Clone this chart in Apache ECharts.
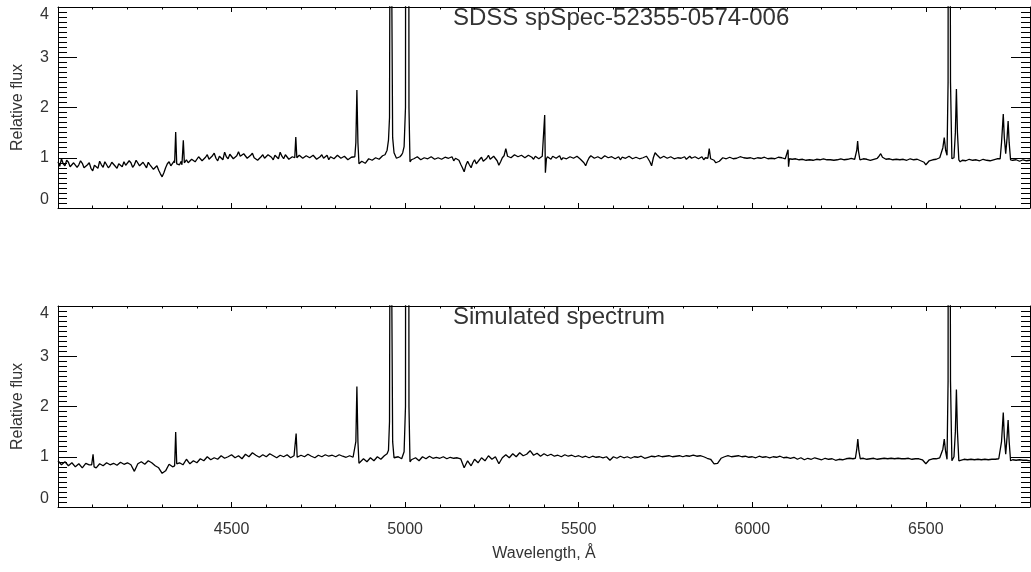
<!DOCTYPE html>
<html>
<head>
<meta charset="utf-8">
<script src="https://cdn.jsdelivr.net/npm/echarts@6/dist/echarts.min.js"></script>
<style>
html,body{margin:0;padding:0;background:#fff;}
#chart{width:1031px;height:572px;}
</style>
</head>
<body>
<div id="chart"></div>
<script>
// Sampling grids of the continuum arrays (Angstrom)
const gridStart = 4000;
const sdssStep = 5;
const simStep = 10;

// Observed SDSS spectrum, continuum samples every 5 A from 4000 to 6800 (one row = 100 A)
const sdssFlux = [
  0.92,0.83,0.98,0.88,0.84,0.95,0.91,0.82,0.80,0.90,0.93,0.81,0.86,0.94,0.89,0.80,0.77,0.86,0.90,0.79,
  0.74,0.85,0.88,0.79,0.93,0.86,0.81,0.92,0.90,0.80,0.84,0.91,0.94,0.83,0.79,0.88,0.88,0.82,0.92,0.85,
  0.83,0.94,0.90,0.81,0.86,0.95,0.93,0.84,0.82,0.91,0.88,0.80,0.91,0.86,0.84,0.77,0.79,0.84,0.75,0.68,
  0.62,0.70,0.80,0.88,0.92,0.84,0.82,0.94,0.90,0.88,0.86,0.93,0.90,0.88,0.96,0.90,0.88,0.97,0.99,0.92,
  0.95,1.02,1.03,0.94,0.93,1.01,1.06,0.97,0.97,1.04,1.09,0.99,0.94,1.03,1.04,0.96,1.11,1.02,0.98,1.07,
  1.05,0.98,0.95,1.04,1.12,1.03,1.00,1.08,1.07,0.99,0.96,1.05,1.09,1.00,1.02,0.95,0.94,1.02,1.06,0.99,
  1.00,1.06,1.09,1.01,0.96,1.05,1.04,0.98,1.11,1.03,0.98,1.06,1.03,0.97,0.95,1.02,1.02,1.00,1.00,1.05,
  1.05,0.99,0.97,1.04,1.07,1.00,1.00,1.05,1.03,0.97,0.95,1.02,1.06,0.99,1.01,1.05,0.96,1.02,1.04,0.98,
  1.00,1.05,1.07,0.99,0.97,1.03,1.02,0.96,0.94,1.01,1.04,0.98,1.00,1.00,0.87,0.93,0.96,0.89,0.91,0.98,
  1.01,0.95,0.93,1.00,1.03,0.97,0.96,1.04,1.05,1.07,1.10,1.10,1.10,1.05,1.03,0.99,0.97,1.02,1.06,1.08,
  1.00,1.00,1.00,1.00,0.93,0.98,0.99,1.02,1.01,0.96,0.95,1.00,1.03,0.98,0.97,1.02,1.01,0.97,0.94,1.00,
  1.00,0.97,0.95,1.01,1.04,0.99,0.97,1.02,0.94,0.99,1.00,0.95,0.87,0.80,0.72,0.85,0.93,0.86,0.80,0.90,
  0.96,0.88,0.85,0.97,1.01,0.93,0.91,0.99,1.05,0.97,0.95,1.03,1.01,0.94,0.85,0.92,1.00,1.04,1.18,1.03,
  1.04,1.00,1.01,1.06,1.08,1.02,0.99,1.05,1.06,1.00,1.01,1.05,1.07,1.01,0.97,1.03,1.04,0.98,1.00,1.03,
  1.00,0.98,1.02,1.00,0.97,1.03,1.05,0.99,1.00,1.04,0.96,1.00,1.03,0.98,0.98,1.02,1.04,0.99,0.99,1.03,
  1.02,0.97,0.95,0.90,0.84,0.93,1.00,1.04,1.05,0.99,0.97,1.02,1.03,0.98,0.99,1.04,1.05,1.00,0.98,1.02,
  1.03,0.98,0.99,1.02,0.96,1.01,1.04,0.99,1.00,1.03,1.02,0.98,0.97,1.01,1.03,0.98,0.95,1.00,1.01,1.03,
  0.98,0.92,0.84,1.00,1.10,1.06,1.04,0.99,1.00,1.03,1.03,0.99,0.99,1.02,1.02,0.98,0.97,1.00,1.01,0.99,
  1.00,1.02,0.97,1.00,1.03,0.99,0.99,1.02,1.01,0.98,1.00,1.02,0.96,1.00,1.00,1.00,0.98,0.95,0.95,0.90,
  0.88,0.93,0.96,1.00,1.01,0.98,0.98,1.01,1.01,0.98,0.96,0.99,1.00,1.02,0.99,1.00,1.02,0.99,0.97,1.00,
  1.00,0.98,0.97,1.00,1.01,0.99,0.98,1.01,1.00,0.98,0.96,0.99,1.00,0.98,0.98,1.01,1.04,1.00,0.99,0.98,
  1.00,0.98,0.99,0.97,0.96,0.98,0.98,0.96,0.95,0.97,0.97,0.95,0.93,0.96,0.97,0.95,0.95,0.97,0.98,0.96,
  0.96,0.98,0.98,0.96,0.94,0.96,0.97,0.95,0.93,0.96,0.96,0.98,0.98,0.96,0.95,0.97,0.97,0.99,0.99,0.97,
  1.00,0.97,0.96,0.98,0.98,0.96,0.97,0.98,0.95,0.97,0.97,0.99,0.99,1.03,1.08,1.01,0.98,0.97,0.96,0.98,
  0.97,0.96,0.95,0.97,0.98,0.96,0.95,0.97,0.97,0.95,0.96,0.98,0.98,0.96,0.95,0.97,0.96,0.94,0.93,0.91,
  0.86,0.90,0.94,0.96,0.96,0.95,0.97,0.98,1.00,1.00,1.00,1.00,1.00,1.00,1.00,1.00,1.00,1.00,1.00,1.00,
  0.93,0.95,0.96,0.94,0.95,0.97,0.97,0.95,0.94,0.96,0.96,0.94,0.95,0.97,0.97,0.95,0.96,0.94,0.95,0.96,
  0.97,0.98,0.99,1.00,1.00,1.00,1.00,1.00,1.00,0.96,0.95,0.93,0.96,0.94,0.93,0.96,0.96,0.93,0.94,0.96,
  0.95
];

// Emission lines / narrow features of the SDSS spectrum: [wavelength, flux]
const sdssLines = [
  [[4336,0.90],[4339,1.51],[4342,0.88]],
  [[4357,0.86],[4361,1.35],[4364,0.90]],
  [[4682,1.00],[4685,1.41],[4688,1.00]],
  [[4855,1.02],[4858,1.30],[4861,2.35],[4864,1.30],[4867,0.88]],
  [[4942,1.06],[4948,1.15],[4952,1.35],[4955,1.80],[4957.5,9],[4961,9],[4964,1.40],[4968,1.10],[4972,1.08]],
  [[4993,1.10],[4997,1.22],[5001,2.00],[5003,20],[5009,20],[5011,2.00],[5014,0.92],[5018,0.96]],
  [[5399,1.00],[5402,1.85],[5404,0.70],[5407,0.98]],
  [[5872,0.99],[5876,1.18],[5880,0.98]],
  [[6100,1.00],[6103,1.16],[6104.5,0.82],[6107,0.98]],
  [[6297,0.98],[6301,1.15],[6303.5,1.33],[6306,1.12],[6310,0.96]],
  [[6543,1.00],[6549,1.20],[6553,1.40],[6557,1.15],[6561,1.05],[6564,2.5],[6566,20],[6569,20],[6571,2.5],[6575,0.98],[6581,1.00],[6585,1.50],[6588,2.37],[6591,1.50],[6595,0.96],[6599,0.92]],
  [[6714,0.98],[6718,1.30],[6723,1.87],[6726,1.40],[6730,1.08],[6734,1.40],[6737,1.73],[6740,1.30],[6744,0.96]]
];

// Simulated spectrum, continuum samples every 10 A from 4000 to 6800
const simFlux = [
  0.92,0.84,0.90,0.82,0.88,0.80,0.86,0.78,0.87,0.84,
  0.86,0.78,0.86,0.82,0.88,0.84,0.87,0.83,0.89,0.85,
  0.88,0.84,0.71,0.86,0.90,0.85,0.92,0.88,0.82,0.78,
  0.67,0.72,0.85,0.80,0.84,0.88,0.84,0.95,0.86,0.92,
  0.88,0.96,0.92,1.00,0.94,0.98,0.95,1.02,0.97,1.00,
  1.04,0.98,1.02,0.96,1.05,1.00,1.08,1.03,0.99,1.04,
  1.00,1.06,1.02,0.98,1.03,1.00,1.04,0.98,1.02,1.00,
  1.03,1.00,1.05,1.01,0.98,1.03,1.00,1.04,1.01,1.03,
  1.00,1.04,1.01,0.99,1.02,0.99,1.00,0.88,0.96,0.90,
  0.98,0.92,1.00,0.95,1.02,1.00,1.00,1.00,1.00,0.96,
  1.00,1.00,0.93,0.98,0.92,1.00,0.96,1.01,0.97,0.99,
  0.97,1.00,0.96,0.99,0.97,0.98,0.96,0.78,0.92,0.82,
  0.95,0.88,0.98,0.92,1.02,0.95,1.00,0.86,0.98,1.04,
  0.98,1.06,1.00,1.08,1.02,1.05,1.12,1.03,1.07,1.01,
  1.06,1.02,1.05,1.01,1.03,1.00,1.04,1.01,1.03,1.00,
  1.02,0.99,1.01,0.98,1.01,0.99,1.00,0.98,1.00,0.93,
  1.00,0.97,1.01,0.98,1.00,0.97,1.00,0.99,1.01,0.97,
  0.99,1.01,1.00,1.02,1.00,1.01,1.02,1.00,1.01,1.02,
  1.00,1.02,1.01,1.03,1.01,1.02,1.00,0.97,0.95,0.86,
  0.87,0.97,1.00,1.02,1.00,1.01,1.02,1.00,1.01,0.99,
  1.00,0.98,1.01,0.99,1.00,0.98,1.00,0.99,1.01,0.98,
  0.99,0.97,0.99,0.95,0.98,0.94,0.97,0.95,0.98,0.96,
  0.94,0.97,0.95,0.96,0.93,0.95,0.94,0.96,0.97,0.96,
  0.97,0.96,0.97,0.95,0.96,0.97,0.95,0.96,0.97,0.96,
  0.97,0.96,0.97,0.96,0.96,0.97,0.95,0.96,0.96,0.94,
  0.86,0.94,0.96,0.96,0.98,1.00,1.00,1.00,1.00,1.00,
  0.93,0.95,0.94,0.95,0.94,0.95,0.94,0.95,0.94,0.95,
  0.95,0.96,1.00,1.00,1.00,0.94,0.93,0.94,0.93,0.93,
  0.92
];

// Emission lines of the simulated spectrum: [wavelength, flux]
const simLines = [
  [[4097,0.84],[4101,1.05],[4104,0.80]],
  [[4336,0.82],[4339,1.49],[4342,0.86]],
  [[4682,1.00],[4686,1.46],[4689,0.99]],
  [[4855,1.00],[4858,1.30],[4861,2.40],[4864,1.30],[4867,0.87]],
  [[4942,1.00],[4948,1.06],[4952,1.13],[4955,1.70],[4957.5,9],[4961,9],[4964,1.30],[4968,0.98],[4972,1.00]],
  [[4993,1.02],[4997,1.10],[5001,2.00],[5003,20],[5009,20],[5011,2.00],[5014,0.90],[5018,0.94]],
  [[6297,0.97],[6301,1.15],[6304,1.35],[6307,1.12],[6311,0.96]],
  [[6543,0.98],[6549,1.15],[6553,1.35],[6557,1.10],[6561,0.95],[6564,2.5],[6566,20],[6569,20],[6571,2.5],[6575,0.92],[6581,1.00],[6585,1.50],[6588,2.34],[6591,1.50],[6595,0.92],[6599,0.93]],
  [[6714,0.96],[6718,1.30],[6723,1.88],[6726,1.40],[6730,1.05],[6734,1.40],[6737,1.73],[6740,1.30],[6744,0.92]]
];

const panelTitles = ['SDSS spSpec-52355-0574-006', 'Simulated spectrum'];
const yTitle = 'Relative flux';
const xTitle = 'Wavelength, Å';
const xMin = 4000, xMax = 6800, xMajor = 500, xMinor = 100;
const yMin = 0, yMax = 4, yMajor = 1;

function buildSpectrum(flux, step, lines) {
  const pts = [];
  flux.forEach((f, i) => {
    const w = gridStart + i * step;
    const inLine = lines.some(g => w >= g[0][0] && w <= g[g.length - 1][0]);
    if (!inLine) pts.push([w, f]);
  });
  lines.forEach(g => g.forEach(p => pts.push(p)));
  pts.sort((a, b) => a[0] - b[0]);
  return pts;
}

const FONT = '"Liberation Sans", Arial, Helvetica, sans-serif';
const TXT = '#333';
const grids = [
  {left: 58, top: 7, width: 972, height: 201},
  {left: 58, top: 306, width: 972, height: 201}
];

const xAxes = [];
const yAxes = [];
grids.forEach((g, gi) => {
  ['bottom', 'top'].forEach(pos => {
    xAxes.push({
      gridIndex: gi, type: 'value', position: pos, min: xMin, max: xMax, interval: xMajor,
      axisLine: {show: true, onZero: false, lineStyle: {color: '#000', width: 1}},
      axisTick: {show: true, inside: true, length: 5, lineStyle: {color: '#000', width: 1}},
      axisLabel: {show: gi === 1 && pos === 'bottom', showMinLabel: false, showMaxLabel: false,
        margin: 15, fontSize: 16, color: TXT, fontFamily: FONT, formatter: v => String(v)},
      splitLine: {show: false}
    });
    xAxes.push({
      gridIndex: gi, type: 'value', position: pos, min: xMin, max: xMax, interval: xMinor,
      axisLine: {show: false, onZero: false},
      axisTick: {show: true, inside: true, length: 2.5, lineStyle: {color: '#000', width: 1}},
      axisLabel: {show: false},
      splitLine: {show: false}
    });
  });
  ['left', 'right'].forEach(pos => {
    yAxes.push({
      gridIndex: gi, type: 'value', position: pos, min: yMin, max: yMax, interval: yMajor,
      axisLine: {show: true, onZero: false, lineStyle: {color: '#000', width: 1}},
      axisTick: {show: true, inside: true, length: 19, lineStyle: {color: '#000', width: 1}},
      minorTick: {show: true, splitNumber: 10, length: 9, lineStyle: {color: '#000', width: 1}},
      axisLabel: {show: pos === 'left', margin: 9, fontSize: 16, color: TXT, fontFamily: FONT,
        verticalAlignMinLabel: 'bottom', verticalAlignMaxLabel: 'top', formatter: v => String(v)},
      splitLine: {show: false}, minorSplitLine: {show: false}
    });
  });
});

const spectra = [buildSpectrum(sdssFlux, sdssStep, sdssLines), buildSpectrum(simFlux, simStep, simLines)];

const series = spectra.map((d, i) => ({
  type: 'line', xAxisIndex: i * 4, yAxisIndex: i * 2, data: d,
  showSymbol: false, symbol: 'none', clip: true,
  lineStyle: {color: '#000', width: 1.3}, silent: true
}));

const graphic = [];
panelTitles.forEach((t, i) => {
  graphic.push({type: 'text', left: 453, top: grids[i].top - 1,
    style: {text: t, font: '24px ' + FONT, fill: TXT}});
  graphic.push({type: 'text', x: 18, y: grids[i].top + grids[i].height / 2, rotation: Math.PI / 2,
    style: {text: yTitle, font: '16px ' + FONT, fill: TXT, align: 'center', verticalAlign: 'middle'}});
});
graphic.push({type: 'text', x: grids[1].left + grids[1].width / 2, y: 554,
  style: {text: xTitle, font: '16px ' + FONT, fill: TXT, align: 'center', verticalAlign: 'middle'}});

const chart = echarts.init(document.getElementById('chart'), null, {renderer: 'canvas'});
chart.setOption({
  animation: false,
  backgroundColor: '#fff',
  grid: grids,
  xAxis: xAxes,
  yAxis: yAxes,
  series: series,
  graphic: graphic
});
</script>
</body>
</html>
